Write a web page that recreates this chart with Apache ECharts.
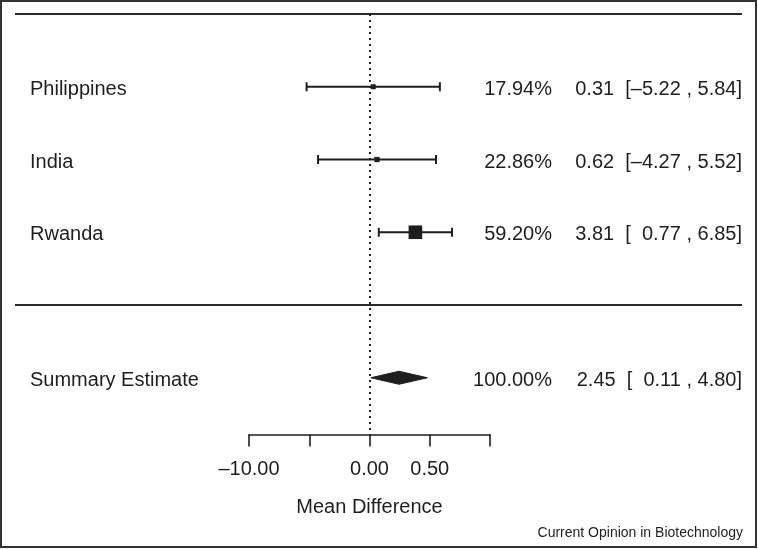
<!DOCTYPE html>
<html>
<head>
<meta charset="utf-8">
<script src="https://cdn.jsdelivr.net/npm/echarts@6/dist/echarts.min.js"></script>
<style>
html,body{margin:0;padding:0;background:#fff;}
#chart{width:758px;height:549px;}
</style>
</head>
<body>
<div id="chart"></div>
<script>
// ---- data ----
const studies = ['Philippines', 'India', 'Rwanda'];
const estimates = [0.31, 0.62, 3.81];
const lowers = [-5.22, -4.27, 0.77];
const uppers = [5.84, 5.52, 6.85];
const weights = [17.94, 22.86, 59.20];
const summaryLabel = 'Summary Estimate';
const summaryEstimate = [2.45];
const summaryLower = [0.11];
const summaryUpper = [4.80];
const summaryWeight = [100.00];
const xTicks = [-10, -5, 0, 5, 10];
const xTickLabels = ['\u201310.00', '', '0.00', '0.50', ''];
const xAxisName = 'Mean Difference';
const credit = 'Current Opinion in Biotechnology';

// ---- helpers ----
const FONT = '"Liberation Sans", Arial, Helvetica, sans-serif';
const INK = '#1e1e1e';
const TEXT_DY = 2.5;
function num(v) { return v < 0 ? '\u2013' + Math.abs(v).toFixed(2) : '  ' + v.toFixed(2); }
function ciText(e, l, u) { return e.toFixed(2) + '  [' + num(l) + ' , ' + u.toFixed(2) + ']'; }

const studyData = studies.map((s, i) => [estimates[i], lowers[i], uppers[i], i + 1, weights[i], i]);
const summaryRow = studies.length + 2;
const sepRow = studies.length + 1;

function textEl(text, x, y, align, size) {
  return {
    type: 'text',
    style: { text: text, x: x, y: y + TEXT_DY, align: align, verticalAlign: 'middle',
      font: (size || 20) + 'px ' + FONT, fill: INK }
  };
}

const chart = echarts.init(document.getElementById('chart'), null, { renderer: 'canvas' });
chart.setOption({
  animation: false,
  backgroundColor: '#fff',
  grid: { left: 249, right: 268, top: 14, bottom: 114.5, containLabel: false, outerBoundsMode: 'none' },
  xAxis: {
    type: 'value', min: -10, max: 10, interval: 5,
    splitLine: { show: false },
    axisLine: { show: true, onZero: false, lineStyle: { color: INK, width: 1.6 } },
    axisTick: { show: true, length: 12, lineStyle: { color: INK, width: 1.6 } },
    axisLabel: {
      margin: 25, fontSize: 20, fontFamily: FONT, color: INK,
      formatter: function (v) { const k = xTicks.indexOf(v); return k >= 0 ? xTickLabels[k] : ''; }
    },
    name: xAxisName, nameLocation: 'middle', nameGap: 63,
    nameTextStyle: { fontSize: 20, fontFamily: FONT, color: INK }
  },
  yAxis: { type: 'value', inverse: true, min: 0, max: 5.78, show: false },
  graphic: [
    { type: 'rect', shape: { x: 1, y: 1, width: 755, height: 546 },
      style: { fill: 'none', stroke: '#333', lineWidth: 2 }, silent: true },
    { type: 'text', right: 15, top: 526,
      style: { text: credit, font: '14px ' + FONT, fill: INK } }
  ],
  series: [
    {
      type: 'custom', clip: false, silent: true,
      data: studyData,
      renderItem: function (params, api) {
        const y = api.coord([0, api.value(3)])[1];
        const xe = api.coord([api.value(0), 0])[0];
        const xl = api.coord([api.value(1), 0])[0];
        const xh = api.coord([api.value(2), 0])[0];
        const w = api.value(4);
        const s = Math.max(5, w * 0.23);
        const i = api.value(5);
        const ls = { stroke: INK, lineWidth: 2 };
        return {
          type: 'group',
          children: [
            { type: 'line', shape: { x1: xl, y1: y, x2: xh, y2: y }, style: ls },
            { type: 'line', shape: { x1: xl, y1: y - 4.5, x2: xl, y2: y + 4.5 }, style: ls },
            { type: 'line', shape: { x1: xh, y1: y - 4.5, x2: xh, y2: y + 4.5 }, style: ls },
            { type: 'rect', shape: { x: xe - s / 2, y: y - s / 2, width: s, height: s }, style: { fill: INK } },
            textEl(studies[i], 30, y, 'left'),
            textEl(weights[i].toFixed(2) + '%', 552, y, 'right'),
            textEl(ciText(estimates[i], lowers[i], uppers[i]), 742, y, 'right')
          ]
        };
      },
      markLine: {
        silent: true, symbol: 'none', animation: false,
        label: { show: false },
        lineStyle: { color: INK, width: 2, type: [2, 4] },
        data: [{ xAxis: 0 }]
      }
    },
    {
      type: 'custom', clip: false, silent: true,
      data: [[summaryEstimate[0], summaryLower[0], summaryUpper[0], summaryRow, summaryWeight[0]]],
      renderItem: function (params, api) {
        const y = api.coord([0, api.value(3)])[1];
        const xe = api.coord([api.value(0), 0])[0];
        const xl = api.coord([api.value(1), 0])[0];
        const xh = api.coord([api.value(2), 0])[0];
        const yTop = api.coord([0, 0])[1];
        const ySep = api.coord([0, sepRow])[1];
        const h = 6.5;
        return {
          type: 'group',
          children: [
            { type: 'line', shape: { x1: 15, y1: yTop, x2: 742, y2: yTop }, style: { stroke: '#2a2a2a', lineWidth: 2 } },
            { type: 'line', shape: { x1: 15, y1: ySep, x2: 742, y2: ySep }, style: { stroke: '#2a2a2a', lineWidth: 2 } },
            { type: 'polygon', shape: { points: [[xl, y], [xe, y - h], [xh, y], [xe, y + h]] }, style: { fill: INK, stroke: INK, lineWidth: 1 } },
            textEl(summaryLabel, 30, y, 'left'),
            textEl(api.value(4).toFixed(2) + '%', 552, y, 'right'),
            textEl(ciText(api.value(0), api.value(1), api.value(2)), 742, y, 'right')
          ]
        };
      }
    }
  ]
});
</script>
</body>
</html>
